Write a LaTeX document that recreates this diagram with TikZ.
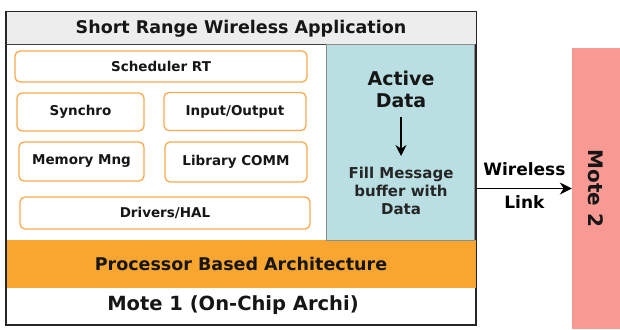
\documentclass[tikz,border=0pt]{standalone}
\usepackage{fontspec}
\setmainfont{DejaVu Sans}
\usetikzlibrary{arrows.meta,positioning}

\definecolor{boxorange}{HTML}{F9AA4E}
\definecolor{procorange}{HTML}{F9A630}
\definecolor{datacyan}{HTML}{B9DFE3}
\definecolor{motesalmon}{HTML}{F89A93}
\definecolor{txt}{HTML}{161616}

\newcommand{\fs}[1]{\fontsize{#1}{#1}\selectfont\bfseries}

\begin{document}
\begin{tikzpicture}[
  x=1pt, y=-1pt,
  >=Stealth,
  text=txt,
  frame/.style={draw=black!85, line width=2pt, inner sep=0pt},
  band/.style={draw=none, inner sep=0pt, font=\fs{17.5}},
  swbox/.style={draw=boxorange, line width=1.3pt, rounded corners=5pt, fill=white,
    inner sep=0pt, font=\fs{13.5}},
  datapanel/.style={draw=black!45, line width=1pt, fill=datacyan, inner sep=0pt},
  link/.style={black, line width=1.4pt, -{Stealth[length=12pt,width=12pt]}}
]
\useasboundingbox (0,0) rectangle (620,329);

% mote 1 frame and its layers
\node[frame, minimum width=470pt, minimum height=313pt] (frame) at (241,168.5) {};
\node[band, fill=black!7, minimum width=469pt, minimum height=32pt] (title) at (241,28.5)
  {Short Range Wireless Application};
\draw[black!75, line width=1pt] (title.south west) -- (title.south east);
\node[band, fill=procorange, minimum width=469pt, minimum height=48pt] (proc) at (241,264)
  {Processor Based Architecture};
\node[band, font=\fs{19.5}] (mote1) at (233,305) {Mote 1 (On-Chip Archi)};

% software blocks
\node[swbox, minimum width=292pt, minimum height=31pt] (sched) at (161,66.5) {Scheduler RT};
\node[swbox, minimum width=127pt, minimum height=38pt] (synchro) at (80.5,112) {Synchro};
\node[swbox, minimum width=142pt, minimum height=38pt] (inout) at (235,111.5) {Input/Output};
\node[swbox, minimum width=125pt, minimum height=39pt] (memmng) at (81.5,161.5) {Memory Mng};
\node[swbox, minimum width=142pt, minimum height=40pt] (libcomm) at (236,162) {Library COMM};
\node[swbox, minimum width=290pt, minimum height=32pt] (drivers) at (165,213) {Drivers/HAL};

% active data panel
\node[datapanel, minimum width=148pt, minimum height=195pt] (panel) at (400.5,142.5) {};
\node[align=center, font={\fontsize{19}{22}\selectfont\bfseries}, inner sep=0pt]
  (active) at (401,89) {Active\\Data};
\node[align=center, font={\fontsize{15}{18}\selectfont\bfseries}, text=black!85,
  inner sep=0pt] (fillmsg) at (401,191) {Fill Message\\buffer with\\Data};
\draw[black, line width=1.3pt, -{Stealth[length=11pt,width=11pt]}]
  ([yshift=-9pt]active.south) -- ([yshift=11pt]fillmsg.north);

% mote 2 (rotated, so its south anchor faces west)
\node[fill=motesalmon, minimum width=281pt, minimum height=48pt, inner sep=0pt,
  rotate=-90, font=\fs{20}] (mote2) at (596,188.5) {Mote 2};

\draw[link] (frame.east |- mote2.south) -- (mote2.south)
  node[midway, yshift=19pt, font=\fs{17}] {Wireless}
  node[midway, yshift=-14pt, font=\fs{17}] {Link};
\end{tikzpicture}
\end{document}
